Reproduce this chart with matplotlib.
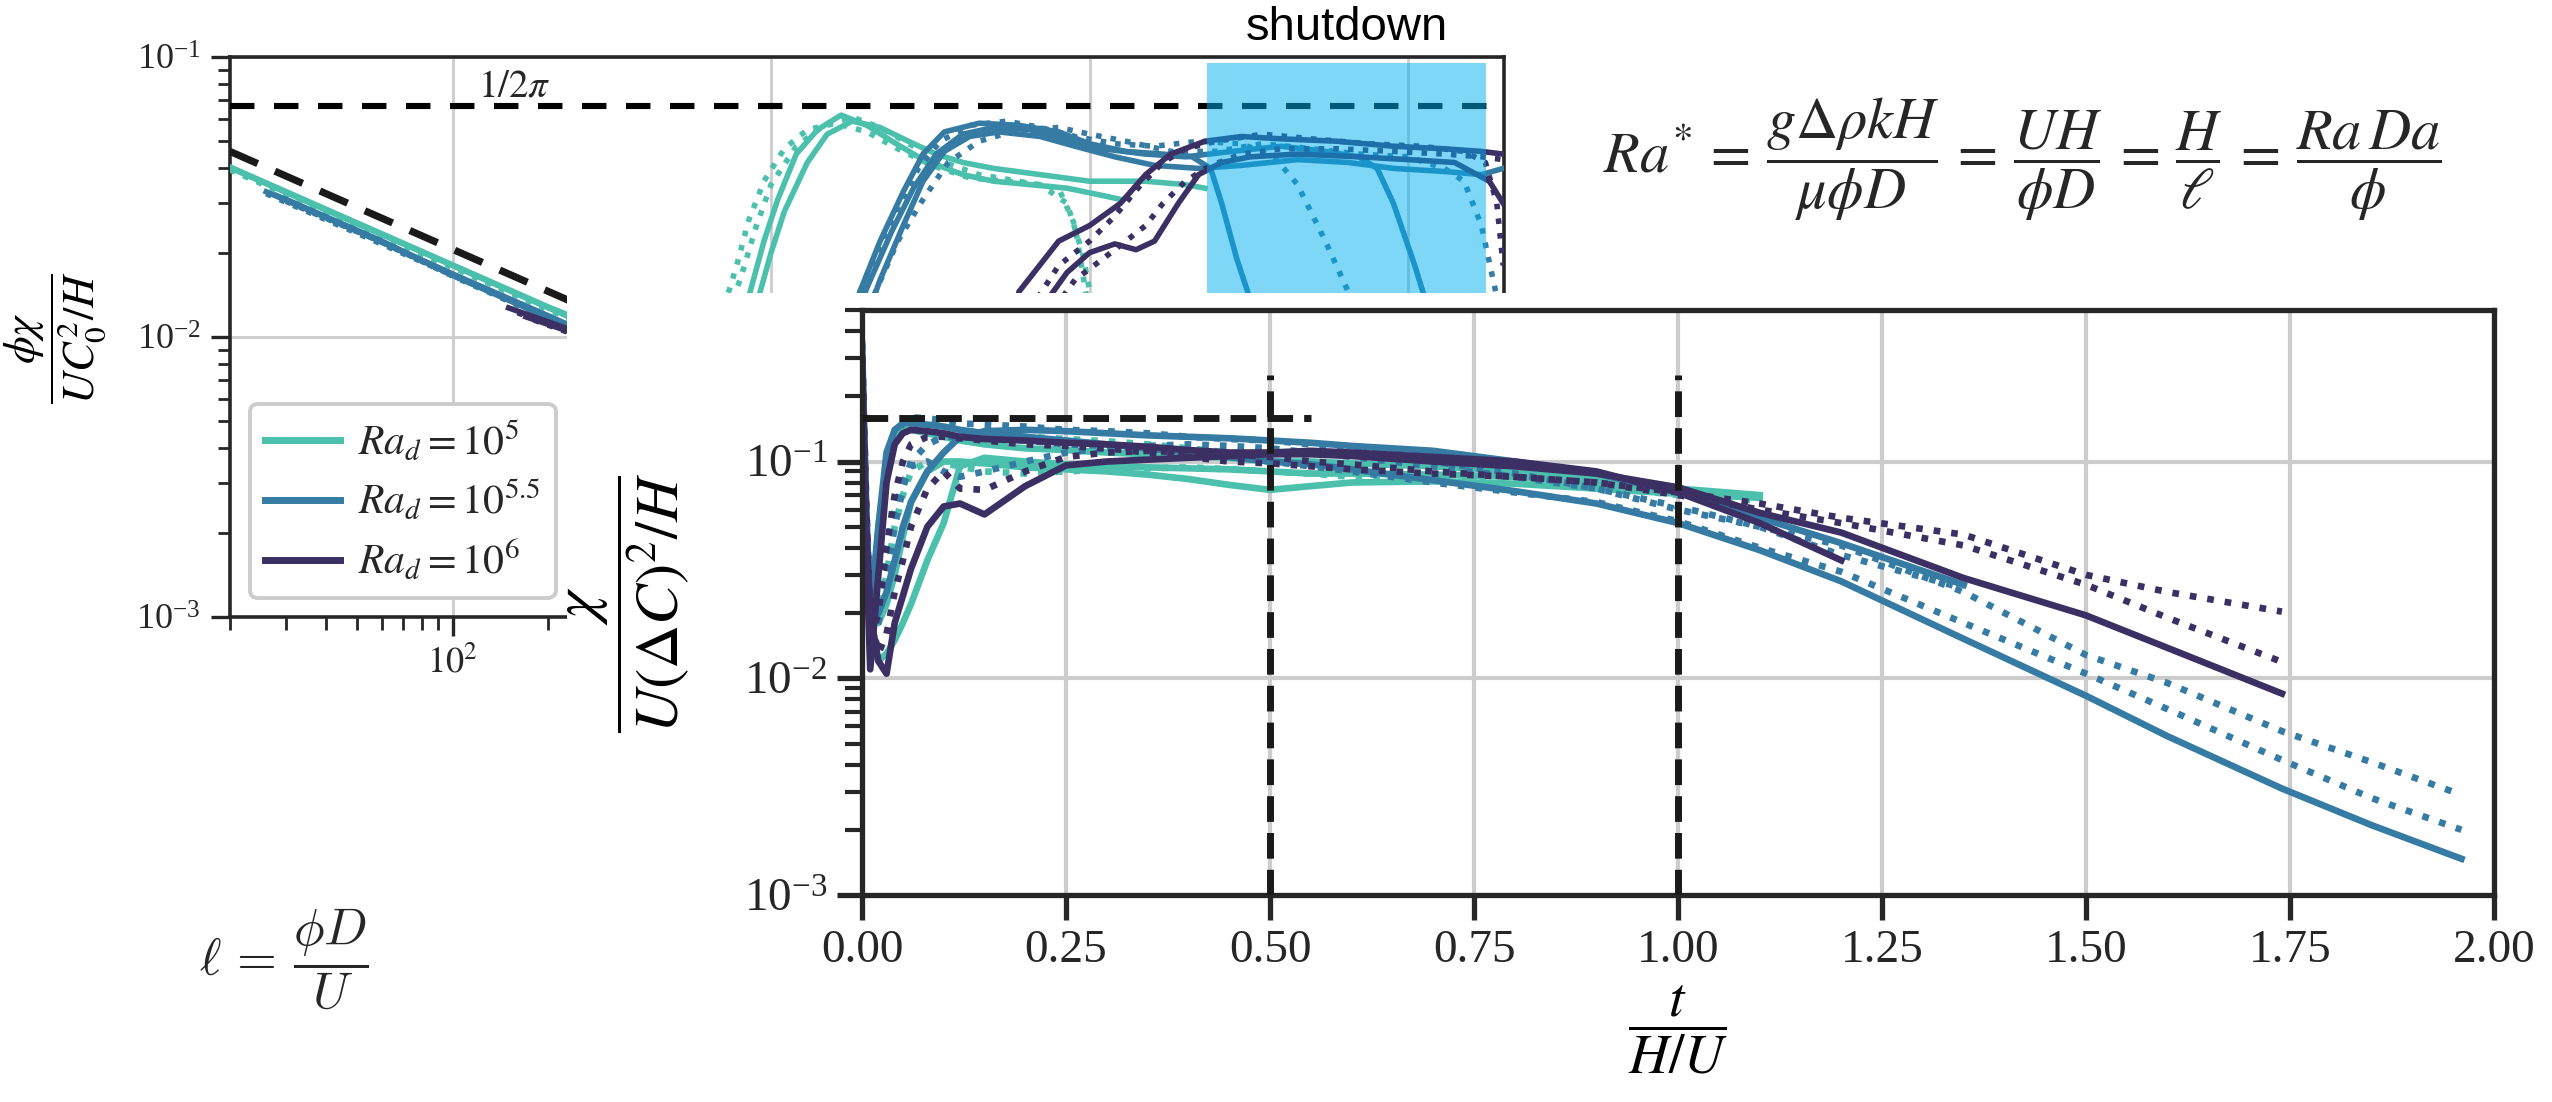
import numpy as np
import matplotlib
matplotlib.use('Agg')
import matplotlib.pyplot as plt
import matplotlib.transforms as mtransforms
from matplotlib.patches import Rectangle
from matplotlib.lines import Line2D

plt.rcParams['font.family'] = ['Liberation Serif', 'DejaVu Serif']
plt.rcParams['mathtext.fontset'] = 'stix'
plt.rcParams['axes.edgecolor'] = '#262626'
plt.rcParams['axes.linewidth'] = 1.9
plt.rcParams['xtick.color'] = '#262626'
plt.rcParams['ytick.color'] = '#262626'
plt.rcParams['xtick.direction'] = 'out'
plt.rcParams['ytick.direction'] = 'out'
plt.rcParams['grid.color'] = '#cccccc'
plt.rcParams['text.color'] = '#262626'

TEAL = '#4bc0ad'
BLUE = '#357ba3'
PURPLE = '#3b2f63'

# ---------------- main panel data: chi / (U dC^2 / H) vs t / (H/U) ----------------
T = [0, 0.005, 0.01, 0.02, 0.03, 0.04, 0.05, 0.06, 0.08, 0.1, 0.12, 0.15, 0.2, 0.25,
     0.3, 0.35, 0.4, 0.45, 0.5, 0.55, 0.6, 0.7, 0.8, 0.9, 1.0, 1.1, 1.2, 1.35, 1.5,
     1.6, 1.74, 1.85, 1.96]

# Ra_d = 1e5
teal_solid_a = [0.30, 0.045, 0.016, 0.05, 0.10, 0.13, 0.14, 0.14, 0.135, 0.13, 0.125, 0.12,
                0.115, 0.113, 0.11, 0.108, 0.106, 0.104, 0.10, 0.10, 0.098, 0.095, 0.09,
                0.085, 0.075, 0.070]
teal_solid_b = [0.22, 0.05, 0.02, 0.018, 0.022, 0.03, 0.045, 0.065, 0.09, 0.10, 0.10, 0.098,
                0.094, 0.092, 0.09, 0.087, 0.083, 0.078, 0.074, 0.077, 0.080, 0.081, 0.079,
                0.075, 0.071, 0.068]
teal_solid_c = [0.25, 0.04, 0.015, 0.012, 0.013, 0.015, 0.018, 0.022, 0.035, 0.052, 0.095,
                0.104, 0.10, 0.097, 0.095, 0.094, 0.093, 0.092, 0.09, 0.088, 0.088, 0.087,
                0.085, 0.08, 0.073, 0.069]
teal_dot_a = [0.35, 0.06, 0.02, 0.04, 0.09, 0.13, 0.15, 0.155, 0.15, 0.145, 0.14, 0.135,
              0.13, 0.127, 0.124, 0.12, 0.115, 0.11, 0.105, 0.10, 0.095, 0.09, 0.085, 0.08,
              0.072, 0.066]
teal_dot_b = [0.28, 0.05, 0.018, 0.02, 0.03, 0.05, 0.07, 0.09, 0.10, 0.098, 0.095, 0.09,
              0.088, 0.09, 0.092, 0.093, 0.094, 0.092, 0.09, 0.088, 0.085, 0.082, 0.08,
              0.077, 0.07, 0.066]

# Ra_d = 10^5.5
blue_solid_a = [0.35, 0.06, 0.02, 0.05, 0.11, 0.14, 0.15, 0.15, 0.148, 0.145, 0.14, 0.135,
                0.13, 0.125, 0.12, 0.115, 0.11, 0.105, 0.10, 0.097, 0.092, 0.082, 0.073,
                0.064, 0.052, 0.039, 0.028, 0.0152, 0.0083, 0.0054, 0.0031, 0.0021, 0.00147]
blue_solid_b = [0.30, 0.06, 0.018, 0.02, 0.025, 0.035, 0.05, 0.065, 0.09, 0.11, 0.13, 0.138,
                0.14, 0.138, 0.135, 0.132, 0.13, 0.128, 0.125, 0.122, 0.118, 0.112, 0.10,
                0.088, 0.072, 0.055, 0.042, 0.027]
blue_dot_a = [0.35, 0.07, 0.02, 0.04, 0.09, 0.13, 0.15, 0.16, 0.158, 0.155, 0.15, 0.148,
              0.145, 0.14, 0.138, 0.135, 0.13, 0.127, 0.125, 0.12, 0.115, 0.10, 0.088,
              0.075, 0.06, 0.05, 0.041, 0.025, 0.0128, 0.0095, 0.0057, 0.0041, 0.0029]
blue_dot_b = [0.30, 0.05, 0.015, 0.018, 0.03, 0.05, 0.075, 0.10, 0.12, 0.13, 0.13, 0.128,
              0.125, 0.12, 0.118, 0.115, 0.11, 0.105, 0.10, 0.095, 0.09, 0.08, 0.072,
              0.065, 0.053, 0.04, 0.031, 0.018, 0.0105, 0.0072, 0.0042, 0.0028, 0.0020]
blue_dot_c = [0.30, 0.05, 0.02, 0.025, 0.04, 0.06, 0.08, 0.095, 0.10, 0.09, 0.085, 0.09,
              0.10, 0.11, 0.115, 0.118, 0.12, 0.118, 0.115, 0.11, 0.105, 0.095, 0.085,
              0.075, 0.062, 0.05, 0.037, 0.026]

# Ra_d = 1e6
purple_solid_a = [0.25, 0.05, 0.02, 0.012, 0.0105, 0.018, 0.024, 0.032, 0.05, 0.062, 0.064,
                  0.057, 0.077, 0.096, 0.10, 0.102, 0.104, 0.106, 0.108, 0.108, 0.106, 0.10,
                  0.095, 0.088, 0.076, 0.058, 0.047, 0.029, 0.0195, 0.0138, 0.0085]
purple_solid_b = [0.30, 0.04, 0.011, 0.03, 0.08, 0.12, 0.135, 0.14, 0.138, 0.135, 0.13,
                  0.127, 0.125, 0.122, 0.12, 0.117, 0.113, 0.11, 0.11, 0.112, 0.11, 0.105,
                  0.10, 0.09, 0.072, 0.052, 0.035]
purple_dot_a = [0.30, 0.06, 0.02, 0.013, 0.016, 0.025, 0.035, 0.05, 0.075, 0.09, 0.075, 0.074,
                0.09, 0.105, 0.11, 0.112, 0.11, 0.108, 0.105, 0.10, 0.097, 0.09, 0.085, 0.08,
                0.072, 0.064, 0.055, 0.046, 0.030, 0.025, 0.0203]
purple_dot_b = [0.30, 0.05, 0.015, 0.02, 0.04, 0.07, 0.10, 0.12, 0.13, 0.13, 0.128, 0.125,
                0.12, 0.118, 0.115, 0.11, 0.105, 0.10, 0.098, 0.095, 0.092, 0.088, 0.085,
                0.08, 0.07, 0.06, 0.052, 0.041, 0.027, 0.019, 0.0119]

main_series = [
    (TEAL, '-', teal_solid_a), (TEAL, '-', teal_solid_b), (TEAL, '-', teal_solid_c),
    (TEAL, ':', teal_dot_a), (TEAL, ':', teal_dot_b),
    (BLUE, '-', blue_solid_a), (BLUE, '-', blue_solid_b),
    (BLUE, ':', blue_dot_a), (BLUE, ':', blue_dot_b), (BLUE, ':', blue_dot_c),
    (PURPLE, '-', purple_solid_a), (PURPLE, '-', purple_solid_b),
    (PURPLE, ':', purple_dot_a), (PURPLE, ':', purple_dot_b),
]

XTICKS = [0.0, 0.25, 0.5, 0.75, 1.0, 1.25, 1.5, 1.75, 2.0]
HALF_2PI = 1 / (2 * np.pi)
FLAT_END = 0.55
VLINES_T = [0.5, 1.0]
VLINES_TOP = 0.25

# ---------------- inset data: log-log, early diffusive decay ----------------
in_teal = [
    ('-', [20, 50, 100, 200, 400, 600, 750, 860, 950, 1050, 1200, 1400, 1660, 2000, 2400,
           3000, 4000, 5000, 6500, 8500, 11000, 12500],
     [0.0405, 0.0256, 0.0181, 0.0128, 0.0093, 0.0083, 0.0095, 0.0145, 0.022, 0.031, 0.045,
      0.055, 0.062, 0.057, 0.05, 0.043, 0.038, 0.036, 0.035, 0.034, 0.032, 0.031]),
    (':', [20, 50, 100, 200, 400, 600, 700, 800, 900, 1000, 1200, 1500, 1800, 2200, 2800,
           3500, 4500, 6000, 8000, 9000, 10000],
     [0.0395, 0.025, 0.0177, 0.0125, 0.009, 0.0085, 0.011, 0.016, 0.025, 0.035, 0.048,
      0.058, 0.061, 0.056, 0.048, 0.042, 0.038, 0.036, 0.034, 0.025, 0.012]),
    ('-', [20, 50, 100, 200, 400, 600, 800, 900, 1000, 1100, 1300, 1500, 1800, 2200, 2700,
           3300, 4000, 5000, 7000, 10000, 15000, 20000, 23000],
     [0.0402, 0.0254, 0.018, 0.0127, 0.009, 0.008, 0.0095, 0.013, 0.02, 0.028, 0.042,
      0.053, 0.059, 0.056, 0.05, 0.045, 0.042, 0.04, 0.038, 0.036, 0.036, 0.035, 0.034]),
    (':', [20, 50, 100, 200, 400, 600, 700, 780, 850, 950, 1100, 1300, 1600, 2000, 2500,
           3200, 4200, 5500, 7000, 8500, 9500, 10500],
     [0.0398, 0.0252, 0.0178, 0.0126, 0.0091, 0.0088, 0.012, 0.018, 0.026, 0.036, 0.047,
      0.055, 0.058, 0.054, 0.047, 0.041, 0.037, 0.036, 0.035, 0.03, 0.02, 0.011]),
]
in_blue = [
    ('-', [26, 50, 100, 200, 500, 1000, 1500, 1900, 2200, 2600, 3000, 3500, 4500, 6000,
           8000, 10000, 13000, 17000, 21000, 24000, 26000, 29000, 34000],
     [0.033, 0.024, 0.0168, 0.0119, 0.0075, 0.0055, 0.0065, 0.0145, 0.022, 0.033, 0.045,
      0.054, 0.058, 0.057, 0.054, 0.049, 0.046, 0.045, 0.044, 0.04, 0.03, 0.019, 0.011]),
    (':', [26, 50, 100, 200, 500, 1000, 1500, 1800, 2100, 2500, 2900, 3400, 4200, 5500,
           7000, 9000, 12000, 16000, 22000, 30000, 38000, 45000, 55000, 70000],
     [0.0325, 0.0235, 0.0166, 0.0118, 0.0074, 0.0055, 0.007, 0.0125, 0.019, 0.028, 0.04,
      0.05, 0.057, 0.059, 0.056, 0.052, 0.049, 0.048, 0.05, 0.049, 0.044, 0.035, 0.022,
      0.012]),
    ('-', [30, 60, 100, 200, 500, 1000, 1600, 2000, 2400, 2800, 3300, 4000, 5000, 6500,
           8500, 11000, 15000, 20000, 28000, 40000, 55000, 70000, 80000, 90000, 105000,
           120000],
     [0.031, 0.022, 0.0166, 0.0117, 0.0073, 0.0054, 0.0075, 0.015, 0.024, 0.034, 0.045,
      0.053, 0.056, 0.055, 0.051, 0.047, 0.045, 0.044, 0.046, 0.048, 0.046, 0.044, 0.04,
      0.03, 0.018, 0.011]),
    (':', [30, 60, 100, 200, 500, 1000, 1700, 2100, 2500, 3000, 3600, 4500, 6000, 8000,
           10000, 13000, 18000, 25000, 35000, 50000, 70000, 100000, 130000, 150000, 170000,
           185000, 199000],
     [0.0305, 0.0218, 0.0165, 0.0116, 0.0072, 0.0054, 0.008, 0.014, 0.022, 0.031, 0.042,
      0.05, 0.055, 0.056, 0.053, 0.05, 0.046, 0.046, 0.049, 0.047, 0.045, 0.044, 0.04,
      0.036, 0.025, 0.016, 0.011]),
    ('-', [28, 60, 100, 200, 500, 1000, 1800, 2200, 2600, 3000, 3500, 4200, 5200, 7000,
           9000, 12000, 16000, 22000, 30000, 45000, 65000, 90000, 130000, 170000, 199000],
     [0.032, 0.0218, 0.0167, 0.0118, 0.0074, 0.0054, 0.0085, 0.016, 0.025, 0.036, 0.046,
      0.052, 0.054, 0.052, 0.048, 0.044, 0.041, 0.04, 0.041, 0.043, 0.042, 0.04, 0.039,
      0.038, 0.04]),
]
in_purple = [
    ('-', [150, 230, 400, 800, 1500, 3000, 5000, 6000, 8000, 10000, 12500, 15000, 18000,
           23000, 30000, 40000, 60000, 90000, 130000, 170000, 199000],
     [0.0127, 0.0107, 0.0082, 0.0058, 0.0043, 0.0032, 0.0036, 0.0145, 0.022, 0.025, 0.03,
      0.038, 0.045, 0.05, 0.052, 0.051, 0.05, 0.048, 0.047, 0.046, 0.045]),
    (':', [160, 230, 400, 800, 1500, 3000, 5000, 6500, 8000, 10000, 12000, 14500, 17000,
           20000, 25000, 35000, 50000, 75000, 110000, 150000, 175000, 190000, 199000],
     [0.0122, 0.0106, 0.0081, 0.0057, 0.0042, 0.0031, 0.0038, 0.0125, 0.018, 0.022, 0.027,
      0.035, 0.042, 0.047, 0.05, 0.053, 0.051, 0.049, 0.048, 0.046, 0.042, 0.03, 0.018]),
    ('-', [170, 230, 400, 800, 1500, 3000, 5500, 7000, 8500, 10000, 12000, 14000, 16000,
           19000, 22000, 26000, 32000, 45000, 70000, 100000, 140000, 180000, 199000],
     [0.0118, 0.0105, 0.008, 0.0056, 0.0041, 0.003, 0.0035, 0.0125, 0.017, 0.02, 0.0215,
      0.0205, 0.022, 0.03, 0.038, 0.042, 0.044, 0.045, 0.044, 0.043, 0.042, 0.036, 0.03]),
    (':', [180, 230, 400, 800, 1500, 3000, 5500, 7500, 9000, 11000, 13000, 15000, 17000,
           20000, 24000, 30000, 40000, 60000, 90000, 130000, 170000, 199000],
     [0.0115, 0.0104, 0.0079, 0.0055, 0.004, 0.0029, 0.0034, 0.012, 0.016, 0.019, 0.022,
      0.025, 0.03, 0.036, 0.041, 0.045, 0.047, 0.047, 0.046, 0.045, 0.044, 0.043]),
]
GUIDE_X = [20, 1000]
GUIDE_Y = [0.046, 0.0065]
INSET_FLAT = 0.067
SHUTDOWN_X = [2.33e4, 1.76e5]
INSET_XTICKS = [1e2, 1e3, 1e4, 1e5]
INSET_XTICKLABELS = [r'$10^{2}$', '', '', '']   # the rest sit under the main panel
legend_labels = [r'$Ra_d = 10^5$', r'$Ra_d = 10^{5.5}$', r'$Ra_d = 10^6$']

# ---------------- figure ----------------
fig = plt.figure(figsize=(12.76, 5.51), dpi=200)

ax_in = fig.add_axes([0.0901, 0.4401, 0.4992, 0.5082], zorder=0)
ax_in.set_xscale('log')
ax_in.set_yscale('log')
for col, group in [(TEAL, in_teal), (BLUE, in_blue), (PURPLE, in_purple)]:
    for ls, xs, ys in group:
        ax_in.plot(xs, ys, color=col, ls=ls, lw=2.0, zorder=3)
ax_in.plot(GUIDE_X, GUIDE_Y, color='#1a1a1a', ls=(0, (4.2, 2.6)), lw=2.6, zorder=4)
ax_in.axhline(INSET_FLAT, color='black', ls=(0, (4.0, 3.2)), lw=2.2, zorder=4)
ax_in.axvspan(SHUTDOWN_X[0], SHUTDOWN_X[1], ymin=0, ymax=0.989, color='#00b0f0',
              alpha=0.5, lw=0, zorder=5)
ax_in.text(120, 0.072, r'$1/2\pi$', fontsize=14, ha='left', va='baseline')
trans = mtransforms.blended_transform_factory(ax_in.transData, ax_in.transAxes)
ax_in.text(np.sqrt(SHUTDOWN_X[0] * SHUTDOWN_X[1]), 1.03, 'shutdown', transform=trans,
           ha='center', va='baseline', fontsize=17, family='Liberation Sans', color='black')
ax_in.set_xlim(20, 2e5)
ax_in.set_ylim(1e-3, 1e-1)
ax_in.set_xticks(INSET_XTICKS)
ax_in.set_xticklabels(INSET_XTICKLABELS)
ax_in.grid(True, which='major', lw=1.0)
ax_in.set_axisbelow(True)
for s in ax_in.spines.values():
    s.set_linewidth(1.3)
ax_in.tick_params(which='major', length=7, width=1.2, labelsize=13)
ax_in.tick_params(which='minor', length=4.5, width=1.0)
ax_in.set_ylabel(r'$\dfrac{\phi\chi}{UC_0^2/H}$', fontsize=16, labelpad=10)
handles = [Line2D([], [], color=c, lw=2.5) for c in (TEAL, BLUE, PURPLE)]
leg = ax_in.legend(handles, legend_labels, loc='lower left', bbox_to_anchor=(0.0157, 0.034),
                   borderaxespad=0, fontsize=15, frameon=True, edgecolor='#cccccc',
                   framealpha=1, handlelength=1.8, handletextpad=0.45, labelspacing=0.35,
                   borderpad=0.35)
leg.get_frame().set_linewidth(1.4)
leg.set_zorder(6)

cover = Rectangle((0.2222, 0), 0.7778, 0.7341, transform=fig.transFigure,
                  facecolor='white', edgecolor='none', zorder=1)
fig.add_artist(cover)

ax = fig.add_axes([0.3378, 0.1878, 0.6395, 0.5309], zorder=2)
ax.set_yscale('log')
for col, ls, ys in main_series:
    ax.plot(T[:len(ys)], ys, color=col, ls=ls, lw=2.4)
ax.hlines(HALF_2PI, 0, FLAT_END, colors='#1a1a1a', linestyles='--', lw=2.5, zorder=4)
ax.vlines(VLINES_T, 1e-3, VLINES_TOP, colors='#1a1a1a', linestyles='--', lw=2.5, zorder=4)
ax.set_xlim(0, 2)
ax.set_ylim(1e-3, 0.5)
ax.set_xticks(XTICKS)
ax.set_xticklabels(['%.2f' % v for v in XTICKS])
ax.grid(True, which='major', lw=1.5)
ax.set_axisbelow(True)
ax.tick_params(which='major', length=9, width=1.9, labelsize=17)
ax.tick_params(which='minor', length=6, width=1.5)
ax.set_xlabel(r'$\dfrac{t}{H/U}$', fontsize=20)
ax.set_ylabel(r'$\dfrac{\chi}{U(\Delta C)^2/H}$', fontsize=22, labelpad=19)

fig.text(0.628, 0.855,
         r'$Ra^{*}\,=\,\dfrac{g\Delta\rho kH}{\mu\phi D}\,=\,\dfrac{UH}{\phi D}\,=\,'
         r'\dfrac{H}{\ell}\,=\,\dfrac{Ra\,Da}{\phi}$',
         fontsize=21, ha='left', va='center')
fig.text(0.1113, 0.130, r'$\ell\,=\,\dfrac{\phi D}{U}$', fontsize=18.5, math_fontfamily='cm',
         ha='center', va='center')

fig.savefig('out.png', dpi=200, facecolor='white')
